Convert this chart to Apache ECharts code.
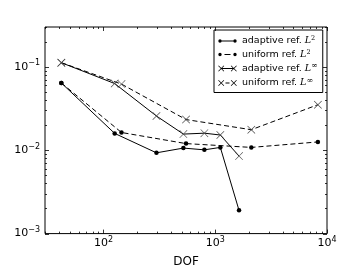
<!DOCTYPE html>
<html><head><meta charset="utf-8">
<script src="https://cdn.jsdelivr.net/npm/echarts@6/dist/echarts.min.js"></script>
<style>html,body{margin:0;padding:0;background:#fff}#c{width:363px;height:273px}</style>
</head><body><div id="c"></div>
<script>
// ---- data ----
const adaptiveDOF  = [42, 126, 298, 519, 800, 1111, 1633];
const adaptiveL2   = [0.064, 0.0159, 0.0093, 0.0106, 0.0101, 0.0108, 0.0019];
const adaptiveLinf = [0.112, 0.063, 0.0257, 0.0156, 0.0160, 0.0152, 0.0085];
const uniformDOF   = [42, 145, 548, 2103, 8290];
const uniformL2    = [0.064, 0.0163, 0.0120, 0.0108, 0.01256];
const uniformLinf  = [0.112, 0.062, 0.0233, 0.0176, 0.0351];
const seriesNames  = ['adaptive ref. L2', 'uniform ref. L2', 'adaptive ref. Linf', 'uniform ref. Linf'];
const xRange = [30, 10000];
const yRange = [0.001, 0.3];
const xLabelTitle = 'DOF';

const FONT = 'DejaVu Sans';
const zip = (a, b) => a.map((v, i) => [v, b[i]]);

function crossPath(cx, cy, h, t) {
  const p = [[cx-h+t,cy-h],[cx,cy-t],[cx+h-t,cy-h],[cx+h,cy-h+t],[cx+t,cy],[cx+h,cy+h-t],
             [cx+h-t,cy+h],[cx,cy+t],[cx-h+t,cy+h],[cx-h,cy+h-t],[cx-t,cy],[cx-h,cy-h+t]];
  return 'M' + p.map(q => q[0].toFixed(2) + ',' + q[1].toFixed(2)).join(' L') + ' Z';
}
function dotPath(cx, cy, r) {
  return `M${cx-r},${cy} a${r},${r} 0 1,1 ${2*r},0 a${r},${r} 0 1,1 ${-2*r},0 Z`;
}
function rectPath(x1, x2, cy, th) {
  return `M${x1},${cy-th/2} H${x2} V${cy+th/2} H${x1} Z`;
}
const IW = 19, IH = 8;
const anchor = `M0,0 L0,0 Z M${IW},${IH} L${IW},${IH} Z `;
const icons = [
  'path://' + anchor + dotPath(2, 4, 1.7) + ' ' + dotPath(IW-2, 4, 1.7) + ' ' + rectPath(2, IW-2, 4, 0.9),
  'path://' + anchor + dotPath(2, 4, 1.7) + ' ' + dotPath(IW-2, 4, 1.7) + ' ' + rectPath(6.5, 12.5, 4, 0.9),
  'path://' + anchor + crossPath(3.2, 4, 3, 0.5) + ' ' + crossPath(IW-3.2, 4, 3, 0.5) + ' ' + rectPath(3.2, IW-3.2, 4, 0.9),
  'path://' + anchor + crossPath(3.2, 4, 3, 0.5) + ' ' + crossPath(IW-3.2, 4, 3, 0.5) + ' ' + rectPath(7.5, 11.5, 4, 0.9)
];
const crossSymbol = 'path://' + crossPath(5, 5, 5, 0.55);

function powLabel(v) {
  const e = Math.log10(v), r = Math.round(e);
  if (Math.abs(e - r) > 1e-6) return '';
  return '{b|10}{s|' + (r < 0 ? '\u2212' + (-r) : r) + '}';
}
const axisRich = {
  b: { fontFamily: FONT, fontSize: 11, color: '#000', lineHeight: 14 },
  s: { fontFamily: FONT, fontSize: 8, color: '#000', padding: [0, 0, 7, 0], lineHeight: 14 }
};

function legendFmt(name) {
  const base = name.startsWith('adaptive') ? 'adaptive ref. ' : 'uniform ref. ';
  const inf = name.endsWith('Linf');
  return '{t|' + base + '}{m|L}' + (inf ? '{i|\u221e}' : '{s|2}');
}

// minor/major tick positions for a log axis
function logTicks(lo, hi) {
  const major = [], minor = [];
  for (let k = Math.floor(Math.log10(lo)); k <= Math.ceil(Math.log10(hi)); k++) {
    for (let m = 1; m <= 9; m++) {
      const v = m * Math.pow(10, k);
      if (v < lo * 0.9999 || v > hi * 1.0001) continue;
      (m === 1 ? major : minor).push(v);
    }
  }
  return { major, minor };
}
const xT = logTicks(xRange[0], xRange[1]);
const yT = logTicks(yRange[0], yRange[1]);

const chart = echarts.init(document.getElementById('c'), null, { renderer: 'canvas' });
chart.setOption({
  animation: false,
  backgroundColor: '#fff',
  grid: { left: 45, top: 27, right: 36, bottom: 28, show: true, borderColor: '#000', borderWidth: 1, backgroundColor: 'transparent' },
  xAxis: {
    type: 'log', logBase: 10, min: xRange[0], max: xRange[1],
    axisLine: { show: false }, axisTick: { show: false }, splitLine: { show: false },
    axisLabel: { formatter: powLabel, rich: axisRich, margin: 3, showMinLabel: true, showMaxLabel: true, hideOverlap: false },
    name: xLabelTitle, nameLocation: 'middle', nameGap: 16,
    nameTextStyle: { fontFamily: FONT, fontSize: 12, color: '#000' }
  },
  yAxis: {
    type: 'log', logBase: 10, min: yRange[0], max: yRange[1],
    axisLine: { show: false }, axisTick: { show: false }, splitLine: { show: false },
    axisLabel: { formatter: powLabel, rich: axisRich, margin: 5, showMinLabel: true, showMaxLabel: true, hideOverlap: false }
  },
  legend: {
    data: seriesNames.map((n, i) => ({ name: n, icon: icons[i] })),
    orient: 'vertical', left: 214, top: 30,
    itemWidth: IW, itemHeight: IH, itemGap: 1.5,
    padding: [5, 5, 3, 4],
    borderColor: '#000', borderWidth: 1, backgroundColor: '#fff',
    itemStyle: { color: '#000', borderWidth: 0 },
    formatter: legendFmt,
    textStyle: {
      fontFamily: FONT, fontSize: 9.5, color: '#000',
      rich: {
        t: { fontFamily: FONT, fontSize: 9.5, color: '#000', lineHeight: 12 },
        m: { fontFamily: 'DejaVu Serif', fontStyle: 'italic', fontSize: 9.5, color: '#000', lineHeight: 12 },
        s: { fontFamily: 'DejaVu Serif', fontSize: 6.5, color: '#000', lineHeight: 12, padding: [0, 0, 5, 0] },
        i: { fontFamily: 'DejaVu Serif', fontSize: 8, color: '#000', lineHeight: 12, padding: [0, 0, 5, 0] }
      }
    },
    selectedMode: false
  },
  series: [
    { name: seriesNames[0], type: 'line', data: zip(adaptiveDOF, adaptiveL2),
      symbol: 'circle', symbolSize: 4.5, lineStyle: { color: '#000', width: 1 }, itemStyle: { color: '#000' } },
    { name: seriesNames[1], type: 'line', data: zip(uniformDOF, uniformL2),
      symbol: 'circle', symbolSize: 4.5, lineStyle: { color: '#000', width: 1, type: [5, 3] }, itemStyle: { color: '#000' } },
    { name: seriesNames[2], type: 'line', data: zip(adaptiveDOF, adaptiveLinf),
      symbol: crossSymbol, symbolSize: 8, lineStyle: { color: '#000', width: 1 }, itemStyle: { color: '#444' } },
    { name: seriesNames[3], type: 'line', data: zip(uniformDOF, uniformLinf),
      symbol: crossSymbol, symbolSize: 8, lineStyle: { color: '#000', width: 1, type: [5, 3] }, itemStyle: { color: '#444' } },
    { type: 'custom', silent: true, clip: false, z: 5,
      data: [[100, 0.01]],
      renderItem: function (params, api) {
        const bl = api.coord([xRange[0], yRange[0]]);
        const tr = api.coord([xRange[1], yRange[1]]);
        const left = bl[0], bottom = bl[1], right = tr[0], top = tr[1];
        const kids = [];
        const st = { stroke: '#000', lineWidth: 0.8 };
        function add(x1, y1, x2, y2) { kids.push({ type: 'line', shape: { x1, y1, x2, y2 }, style: st }); }
        [[xT.major, 4], [xT.minor, 2]].forEach(([arr, L]) => arr.forEach(v => {
          const x = Math.round(api.coord([v, yRange[0]])[0]) + 0.5;
          add(x, bottom, x, bottom - L); add(x, top, x, top + L);
        }));
        [[yT.major, 4], [yT.minor, 2]].forEach(([arr, L]) => arr.forEach(v => {
          const y = Math.round(api.coord([xRange[0], v])[1]) + 0.5;
          add(left, y, left + L, y); add(right, y, right - L, y);
        }));
        return { type: 'group', children: kids };
      }
    }
  ]
});
</script></body></html>
